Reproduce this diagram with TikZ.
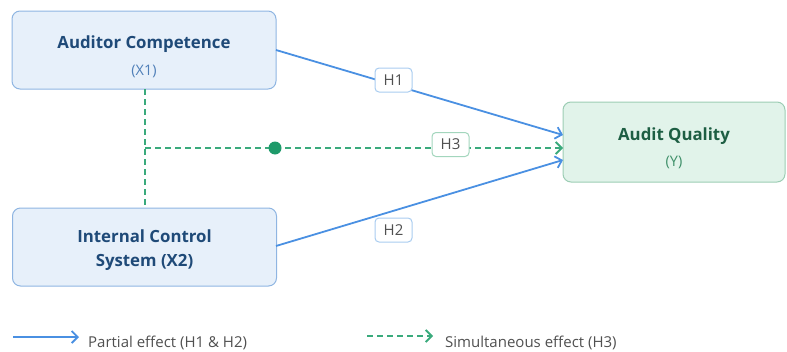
\documentclass[tikz,border=0pt]{standalone}
\usepackage{fontspec}
\setmainfont{Open Sans}
\usetikzlibrary{arrows.meta}
\definecolor{bfill}{HTML}{E7F0FA}
\definecolor{bdraw}{HTML}{8FB5E2}
\definecolor{btitle}{HTML}{1F4A78}
\definecolor{bsub}{HTML}{4F7FB8}
\definecolor{gfill}{HTML}{E1F3EA}
\definecolor{gdraw}{HTML}{9CCDB4}
\definecolor{gtitle}{HTML}{1D5E43}
\definecolor{gsub}{HTML}{3E8F69}
\definecolor{bline}{HTML}{4A90E2}
\definecolor{gline}{HTML}{3AAA7C}
\definecolor{gdot}{HTML}{1E9A6A}
\definecolor{lbdraw}{HTML}{A9CCF0}
\definecolor{lgdraw}{HTML}{A3D6BD}
\definecolor{txtgray}{HTML}{505050}
\tikzset{
  varbox/.style={draw=bdraw, fill=bfill, rounded corners=8pt, line width=1pt, minimum width=264pt, minimum height=78pt, inner sep=0pt, align=center},
  depbox/.style={draw=gdraw, fill=gfill, rounded corners=8pt, line width=1pt, minimum width=222pt, minimum height=80pt, inner sep=0pt, align=center},
  partial/.style={draw=bline, line width=1.8pt, -{Straight Barb[length=6pt,width=12pt]}},
  simult/.style={draw=gline, line width=1.8pt, dash pattern=on 6pt off 4pt, -{Straight Barb[length=6pt,width=12pt]}},
  hlab/.style={draw=lbdraw, fill=white, rounded corners=4pt, line width=1pt, minimum width=37pt, minimum height=24pt, inner sep=0pt, font=\fontsize{15}{16}\selectfont, text=txtgray},
  hlabg/.style={hlab, draw=lgdraw},
  ttl/.style={font=\fontsize{16.8}{24}\selectfont\bfseries, align=center, inner sep=0pt},
  sub/.style={font=\fontsize{14.5}{16}\selectfont, inner sep=0pt},
  legtext/.style={anchor=west, font=\fontsize{15}{16}\selectfont, text=txtgray, inner sep=0pt}
}
\begin{document}
\begin{tikzpicture}[x=1pt,y=-1pt]
\useasboundingbox (0,0) rectangle (787,351);
% boxes
\node[varbox] (x1) at (144,50) {};
\node[ttl, text=btitle] (x1t) at (144,44) {Auditor Competence};
\node[sub, text=bsub] (x1s) at (144,71) {(X1)};
\node[varbox] (x2) at (144.5,247) {};
\node[ttl, text=btitle] (x2t) at (144.5,250) {Internal Control\\System (X2)};
\node[depbox] (y) at (674,142) {};
\node[ttl, text=gtitle] (yt) at (674,136) {Audit Quality};
\node[sub, text=gsub] (ys) at (674,162) {(Y)};
% connectors
\coordinate (x1r) at (276,50);
\coordinate (x2r) at (276,246);
\coordinate (yin1) at (563,135);
\coordinate (yin2) at (563,160);
\coordinate (yin3) at (563,148);
\coordinate (vx1) at (145,89);
\coordinate (vx2) at (145,208);
\coordinate (junc) at (145,148);
\draw[draw=gline, line width=1.8pt, dash pattern=on 6pt off 4pt] (vx1) -- (vx2);
\draw[simult] (junc) -- (yin3);
\draw[partial] (x1r) -- (yin1);
\draw[partial] (x2r) -- (yin2);
\node[circle, fill=gdot, minimum size=13pt, inner sep=0pt] (dot) at (275,148) {};
\node[hlab] (h1) at (393.5,80) {\raisebox{-3pt}{H1}};
\node[hlabg] (h3) at (450.5,144.5) {\raisebox{-3pt}{H3}};
\node[hlab] (h2) at (393.5,230) {\raisebox{-3pt}{H2}};
% legend
\coordinate (l1a) at (13,337);
\coordinate (l1b) at (79,337);
\coordinate (l2a) at (367,336);
\coordinate (l2b) at (433,336);
\draw[partial] (l1a) -- (l1b);
\draw[simult] (l2a) -- (l2b);
\node[legtext] (lt1) at (88,343) {Partial effect (H1 \& H2)};
\node[legtext] (lt2) at (445,343) {Simultaneous effect (H3)};
\end{tikzpicture}
\end{document}
